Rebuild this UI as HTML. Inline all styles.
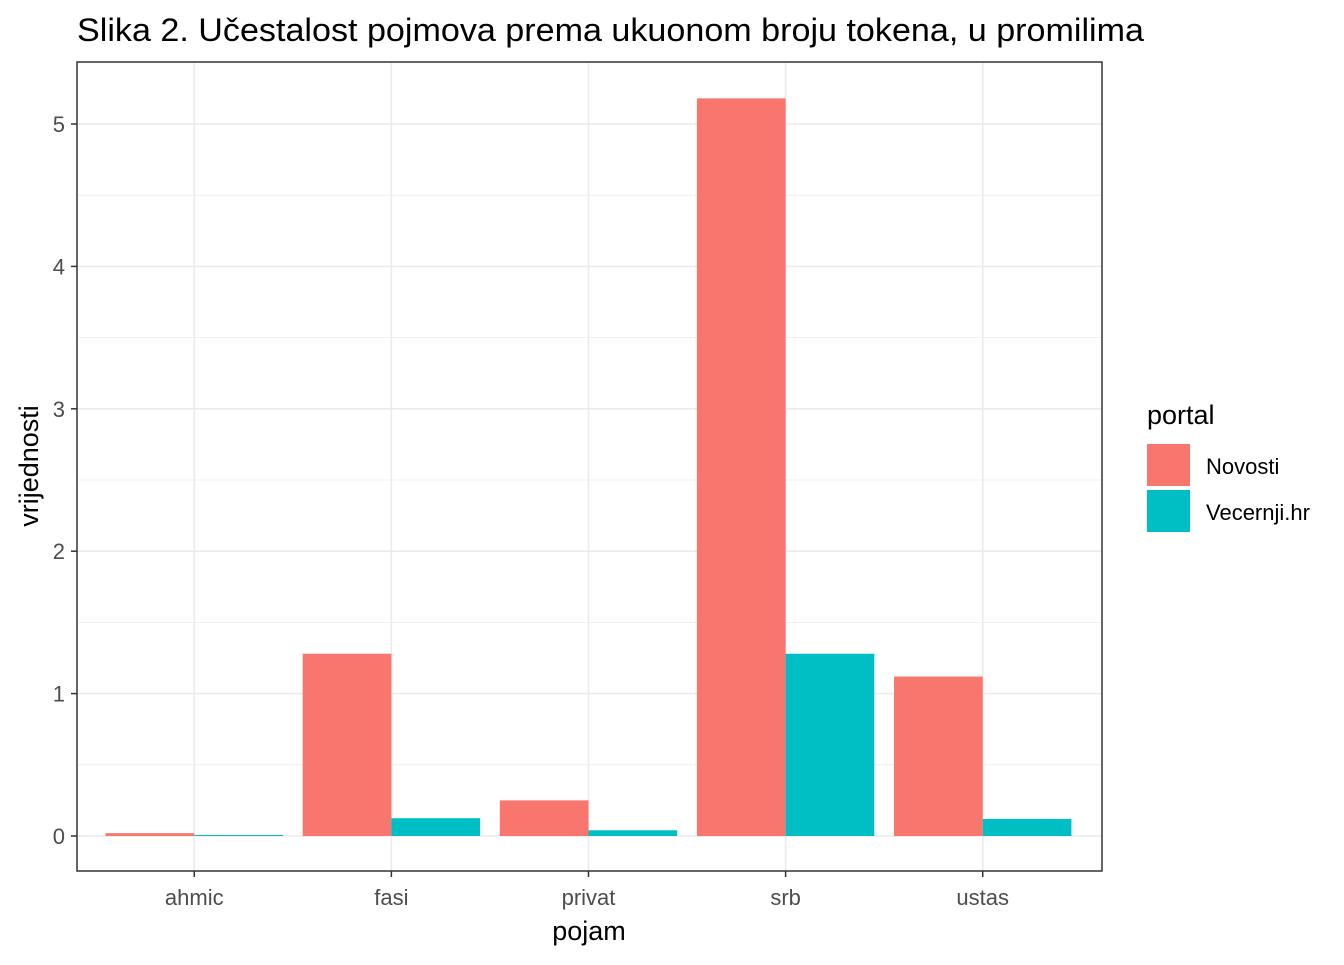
<!DOCTYPE html>
<html><head><meta charset="utf-8"><style>
body{margin:0;background:#fff;font-family:"Liberation Sans",sans-serif;}
</style></head><body>
<svg width="1344" height="960" xmlns="http://www.w3.org/2000/svg">
<text x="77" y="41" font-size="32" fill="#000" textLength="1067" lengthAdjust="spacingAndGlyphs">Slika 2. Učestalost pojmova prema ukuonom broju tokena, u promilima</text>
<g id="grid"></g>
<g id="bars"></g>
<rect x="77" y="62" width="1025" height="809" fill="none" stroke="#333" stroke-width="1.5"/>
<g id="axes"></g>
<text x="589" y="940" font-size="27" text-anchor="middle">pojam</text>
<text transform="translate(38,466) rotate(-90)" font-size="27" text-anchor="middle">vrijednosti</text>
<text x="1147" y="424" font-size="27">portal</text>
<g><rect x="1147" y="444" width="43" height="42" fill="#F8766D"/><text x="1206" y="474" font-size="22">Novosti</text></g>
<g><rect x="1147" y="490" width="43" height="42" fill="#00BFC4"/><text x="1206" y="520" font-size="22">Vecernji.hr</text></g>
</svg>
<script>
const categories=["ahmic","fasi","privat","srb","ustas"];
const novosti=[0.02,1.28,0.25,5.18,1.12];
const vecernji=[0.007,0.125,0.04,1.28,0.12];
const yTicks=[0,1,2,3,4,5];
const NS="http://www.w3.org/2000/svg";
const x0=77,x1=1102,y0=62,y1=871;
const step=(x1-x0)/(categories.length+0.2);
const xc=i=>x0-1+step*(0.6+i);
const yv=v=>836-v*142.4;
const bw=step*0.45;
function mk(t,a,p){const e=document.createElementNS(NS,t);for(const k in a)e.setAttribute(k,a[k]);p.appendChild(e);return e;}
const grid=document.getElementById('grid'),bars=document.getElementById('bars'),axes=document.getElementById('axes');
for(let v=-0.5;v<=5.5;v+=0.5){const y=yv(v);if(y<y0||y>y1)continue;
 const l=mk('line',{x1:x0,x2:x1,y1:y,y2:y,stroke:'#ebebeb','stroke-width':Number.isInteger(v)?1.6:0.8},grid);
 }
categories.forEach((c,i)=>{const l=mk('line',{x1:xc(i),x2:xc(i),y1:y0,y2:y1,stroke:'#ebebeb','stroke-width':1.6},grid);
 
 const t=mk('line',{x1:xc(i),x2:xc(i),y1:y1,y2:y1+6,stroke:'#333','stroke-width':1.5},axes);
 
 const tx=mk('text',{x:xc(i),y:905,'font-size':22,'text-anchor':'middle',fill:'#4d4d4d'},axes);tx.textContent=c;
 
 const b1=mk('rect',{x:xc(i)-bw,y:yv(novosti[i]),width:bw,height:yv(0)-yv(novosti[i]),fill:'#F8766D'},bars);
 
 const b2=mk('rect',{x:xc(i),y:yv(vecernji[i]),width:bw,height:Math.max(1,yv(0)-yv(vecernji[i])),fill:'#00BFC4'},bars);
 });
yTicks.forEach(v=>{const t=mk('line',{x1:x0-6,x2:x0,y1:yv(v),y2:yv(v),stroke:'#333','stroke-width':1.5},axes);
 
 const tx=mk('text',{x:x0-12,y:yv(v)+8,'font-size':22,'text-anchor':'end',fill:'#4d4d4d'},axes);tx.textContent=v;
 });
</script>
</body></html>
